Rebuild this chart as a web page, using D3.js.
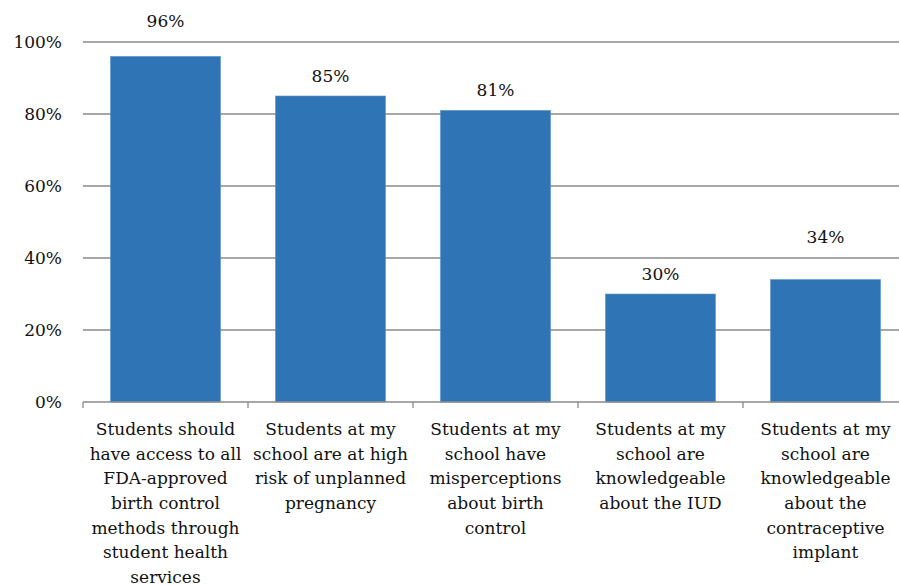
<!DOCTYPE html>
<html>
<head>
<meta charset="utf-8">
<script src="https://cdn.jsdelivr.net/npm/d3@7"></script>
<style>
  body { margin: 0; background: #fff; overflow: hidden; }
  text { font-family: "DejaVu Serif", serif; fill: #111; }
</style>
</head>
<body>
<div id="chart"></div>
<script>
// category labels, already broken into lines as in the picture
var categories = [
  ["Students should", "have access to all", "FDA-approved", "birth control", "methods through", "student health", "services"],
  ["Students at my", "school are at high", "risk of unplanned", "pregnancy"],
  ["Students at my", "school have", "misperceptions", "about birth", "control"],
  ["Students at my", "school are", "knowledgeable", "about the IUD"],
  ["Students at my", "school are", "knowledgeable", "about the", "contraceptive", "implant"]
];
var values = [0.96, 0.85, 0.81, 0.30, 0.34];
var yTicks = [0, 0.2, 0.4, 0.6, 0.8, 1.0];

var width = 899, height = 586;
// the plot runs a little past the right edge of the picture
var plotLeft = 83, plotRight = 908, plotTop = 42, plotBottom = 402;

var svg = d3.select("#chart")
  .append("svg")
  .attr("width", width)
  .attr("height", height);

var x = d3.scaleBand()
  .domain(d3.range(categories.length))
  .range([plotLeft, plotRight])
  .paddingInner(1 / 3)
  .paddingOuter(1 / 6);

var y = d3.scaleLinear()
  .domain([0, 1])
  .range([plotBottom, plotTop]);

var fmt = d3.format(".0%");

// gridlines
svg.selectAll(".grid")
  .data(yTicks.filter(function(d){ return d > 0; }))
  .enter()
  .append("line")
  .attr("x1", plotLeft)
  .attr("x2", plotRight)
  .attr("y1", function(d){ return y(d); })
  .attr("y2", function(d){ return y(d); })
  .attr("stroke", "#8a8a8a")
  .attr("stroke-width", 1.3);

// y axis labels
svg.selectAll(".ylab")
  .data(yTicks)
  .enter()
  .append("text")
  .attr("x", 62)
  .attr("y", function(d){ return y(d); })
  .attr("dy", "0.35em")
  .attr("text-anchor", "end")
  .style("font-size", "17px")
  .text(fmt);

// bars
svg.selectAll(".bar")
  .data(values)
  .enter()
  .append("rect")
  .attr("x", function(d, i){ return x(i); })
  .attr("y", function(d){ return y(d); })
  .attr("width", x.bandwidth())
  .attr("height", function(d){ return y(0) - y(d); })
  .attr("fill", "#2f74b5")
  .attr("stroke", "#5a93cc")
  .attr("stroke-width", 0.6);

// x axis line + ticks
svg.append("line")
  .attr("x1", plotLeft).attr("x2", plotRight)
  .attr("y1", plotBottom).attr("y2", plotBottom)
  .attr("stroke", "#8a8a8a")
  .attr("stroke-width", 1.3);

var edges = d3.range(categories.length + 1).map(function(i){
  return plotLeft + i * x.step();
});
svg.selectAll(".tick")
  .data(edges)
  .enter()
  .append("line")
  .attr("x1", function(d){ return d; })
  .attr("x2", function(d){ return d; })
  .attr("y1", plotBottom)
  .attr("y2", plotBottom + 6)
  .attr("stroke", "#8a8a8a")
  .attr("stroke-width", 1.3);

// value labels: above bar, lifted over a gridline when they would sit on it
function labelY(d){
  var c = y(d) - 20;
  var hit = yTicks.filter(function(t){ return Math.abs(y(t) - c) < 10; });
  if (hit.length) c = y(hit[0]) - 21;
  return c;
}
svg.selectAll(".vlab")
  .data(values)
  .enter()
  .append("text")
  .attr("x", function(d, i){ return x(i) + x.bandwidth() / 2; })
  .attr("y", labelY)
  .attr("dy", "0.35em")
  .attr("text-anchor", "middle")
  .style("font-size", "17px")
  .text(fmt);

// category labels
var cat = svg.selectAll(".cat")
  .data(categories)
  .enter()
  .append("text")
  .attr("text-anchor", "middle")
  .style("font-size", "17px");

cat.selectAll("tspan")
  .data(function(d, i){ return d.map(function(s){ return {s: s, i: i}; }); })
  .enter()
  .append("tspan")
  .attr("x", function(d){ return x(d.i) + x.bandwidth() / 2; })
  .attr("y", function(d, j){ return 429 + j * 24.7; })
  .attr("dy", "0.35em")
  .text(function(d){ return d.s; });
</script>
</body>
</html>
